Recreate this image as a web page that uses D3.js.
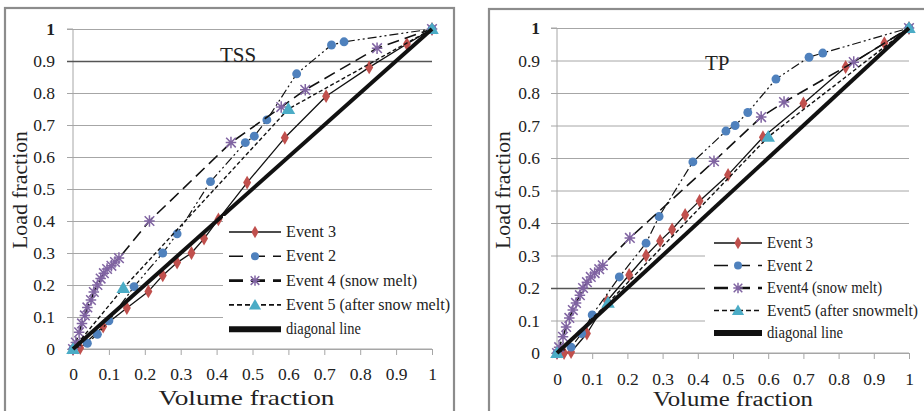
<!DOCTYPE html>
<html><head><meta charset="utf-8">
<script src="https://cdn.jsdelivr.net/npm/d3@7"></script>
<style>
html,body{margin:0;padding:0;background:#fff;}
svg{display:block;}
</style></head>
<body>
<svg id="c" width="924" height="411"></svg>
<script>
// ---------- data ----------
const ticks = [0,0.1,0.2,0.3,0.4,0.5,0.6,0.7,0.8,0.9,1];
const tickLabels = ["0","0.1","0.2","0.3","0.4","0.5","0.6","0.7","0.8","0.9","1"];
const seriesNames = ["Event 3","Event 2","Event 4 (snow melt)","Event 5 (after snow melt)","diagonal line"];
const seriesNamesTP = ["Event 3","Event 2","Event4 (snow melt)","Event5 (after snowmelt)","diagonal line"];

// TSS chart
const tssEvent3 = [[0,0],[0.02,0.003],[0.084,0.07],[0.15,0.128],[0.21,0.18],[0.25,0.23],[0.29,0.27],[0.33,0.30],[0.365,0.345],[0.405,0.405],[0.485,0.52],[0.59,0.66],[0.705,0.79],[0.825,0.88],[0.93,0.953],[1,1]];
const tssEvent2 = [[0,0],[0.04,0.018],[0.068,0.046],[0.1,0.088],[0.17,0.195],[0.25,0.30],[0.29,0.36],[0.383,0.523],[0.48,0.645],[0.505,0.665],[0.54,0.716],[0.623,0.86],[0.72,0.95],[0.755,0.96],[1,1]];
const tssEvent4 = [[0,0],[0.008,0.02],[0.017,0.052],[0.025,0.08],[0.033,0.105],[0.04,0.13],[0.05,0.153],[0.058,0.178],[0.068,0.2],[0.077,0.22],[0.086,0.237],[0.095,0.25],[0.107,0.26],[0.117,0.272],[0.128,0.284],[0.213,0.40],[0.44,0.645],[0.58,0.756],[0.647,0.81],[0.847,0.94],[1,1]];
const tssEvent5 = [[0,0],[0.14,0.19],[0.6,0.75],[1,1]];
const tssDiagonal = [[0,0],[1,1]];

// TP chart
const tpEvent3 = [[0,0],[0.02,0],[0.04,0.003],[0.085,0.06],[0.142,0.16],[0.205,0.24],[0.253,0.30],[0.293,0.345],[0.327,0.38],[0.364,0.425],[0.405,0.468],[0.486,0.548],[0.585,0.664],[0.70,0.768],[0.82,0.88],[0.93,0.953],[1,1]];
const tpEvent2 = [[0,0],[0.04,0.018],[0.07,0.06],[0.1,0.117],[0.177,0.234],[0.253,0.338],[0.29,0.42],[0.386,0.588],[0.48,0.683],[0.506,0.70],[0.542,0.74],[0.622,0.843],[0.716,0.91],[0.755,0.923],[1,1]];
const tpEvent4 = [[0,0],[0.006,0.018],[0.017,0.05],[0.026,0.08],[0.035,0.108],[0.045,0.132],[0.054,0.154],[0.065,0.178],[0.074,0.2],[0.085,0.218],[0.096,0.234],[0.107,0.246],[0.12,0.258],[0.13,0.27],[0.207,0.354],[0.446,0.59],[0.58,0.726],[0.645,0.772],[0.843,0.895],[1,1]];
const tpEvent5 = [[0,0],[0.145,0.154],[0.60,0.665],[1,1]];
const tpDiagonal = [[0,0],[1,1]];

// ---------- styles ----------
const FONT = "'Liberation Serif'";
const styles = [
  {dash:null, w:1.3, marker:"diamond", color:"#c0504d"},
  {dash:"9,3,2,3,2,3", w:1.2, marker:"circle", color:"#4f81bd"},
  {dash:"12,6", w:1.6, marker:"star", color:"#8064a2"},
  {dash:"4,2.5", w:1.4, marker:"triangle", color:"#4bacc6"},
  {dash:null, w:4, marker:null, color:null}
];
const legendDash = [null,"14,8","14,8","5,3",null];
const legendW = [1.6,1.4,2.6,1.6,6];

const svg = d3.select("#c");

function marker(g, type, color, x, y, scale){
  scale = scale||1;
  if(type==="diamond"){
    g.append("path").attr("d",d3.symbol(d3.symbolDiamond,55*scale)()).attr("transform",`translate(${x},${y})`).attr("fill",color);
  } else if(type==="circle"){
    g.append("path").attr("d",d3.symbol(d3.symbolCircle,62*scale)()).attr("transform",`translate(${x},${y})`).attr("fill",color);
  } else if(type==="triangle"){
    g.append("path").attr("d",d3.symbol(d3.symbolTriangle,80*scale)()).attr("transform",`translate(${x},${y+1})`).attr("fill",color);
  } else if(type==="star"){
    const r=4.8*Math.sqrt(scale);
    const d=`M${-r},${-r}L${r},${r}M${-r},${r}L${r},${-r}M0,${-r*1.2}L0,${r*1.2}M${-r*1.1},0L${r*1.1},0`;
    g.append("path").attr("d",d).attr("transform",`translate(${x},${y})`).attr("stroke",color).attr("stroke-width",1.5).attr("fill","none");
  }
}

function drawChart(cfg){
  const x = d3.scaleLinear([0,1],cfg.xr);
  const y = d3.scaleLinear([0,1],cfg.yr);
  const g = svg.append("g");
  // frame
  g.append("rect").attr("x",cfg.frame[0]).attr("y",cfg.frame[1]).attr("width",cfg.frame[2]).attr("height",cfg.frame[3])
    .attr("fill","none").attr("stroke","#8c8c8c").attr("stroke-width",2.2);
  // gridlines + y axis
  const ya = d3.axisLeft(y).tickValues(ticks).tickFormat((d,i)=>tickLabels[i]).tickSize(6).tickPadding(cfg.yPad);
  const yg = g.append("g").attr("transform",`translate(${cfg.xr[0]},0)`).call(ya);
  yg.select(".domain").attr("stroke","#a6a6a6").attr("d",`M-6,${cfg.yr[1]}H0V${cfg.yr[0]}`);
  yg.selectAll(".tick line").attr("stroke",(d)=> d===cfg.darkGrid ? "#555" : "#a6a6a6").attr("x2",cfg.xr[1]-cfg.xr[0]).attr("x1",-6)
    .attr("stroke-width",(d)=> d===cfg.darkGrid ? 1.4 : 1);
  yg.selectAll(".tick text").style("font-family",FONT).style("font-size","17.5px").attr("fill","#222")
    .attr("font-weight",(d)=>d===1?"bold":"normal");
  // x axis
  const xa = d3.axisBottom(x).tickValues(ticks).tickFormat((d,i)=>tickLabels[i]).tickSize(6).tickPadding(cfg.xPad);
  const xg = g.append("g").attr("transform",`translate(0,${cfg.yr[0]})`).call(xa);
  xg.select(".domain").attr("stroke","#a6a6a6").attr("d",`M${cfg.xr[0]},0H${cfg.xr[1]}`);
  xg.selectAll(".tick line").attr("stroke","#a6a6a6");
  xg.selectAll(".tick text").style("font-family",FONT).style("font-size","17.5px").attr("fill","#222");
  // title
  g.append("text").attr("x",cfg.title[1]).attr("y",cfg.title[2]).style("font-family",FONT).style("font-size","21px").attr("fill","#222").text(cfg.title[0]);
  // axis titles
  g.append("text").attr("x",(cfg.xr[0]+cfg.xr[1])/2-cfg.xtOff).attr("y",cfg.xtY).attr("text-anchor","middle")
    .style("font-family",FONT).style("font-size",cfg.xtFs+"px").attr("fill","#222").attr("textLength",cfg.xtLen).attr("lengthAdjust","spacingAndGlyphs").text("Volume fraction");
  g.append("text").attr("transform",`translate(${cfg.ytX},${cfg.ytC}) rotate(-90)`).attr("text-anchor","middle")
    .style("font-family",FONT).style("font-size","21px").attr("fill","#222").attr("textLength",118).attr("lengthAdjust","spacingAndGlyphs").text("Load fraction");
  // series (Excel order: each series line then markers, diagonal last)
  const line = d3.line().x(d=>x(d[0])).y(d=>y(d[1]));
  cfg.series.forEach((s,i)=>{
    const st = styles[i];
    const sg = g.append("g");
    sg.append("path").attr("d",line(s)).attr("fill","none").attr("stroke","#111").attr("stroke-width",st.w)
      .attr("stroke-dasharray",st.dash).attr("stroke-linejoin","round");
    if(st.marker){ s.forEach(p=>marker(sg,st.marker,st.color,x(p[0]),y(p[1]))); }
  });
  // legend
  const lg = g.append("g");
  lg.append("rect").attr("x",cfg.leg.box[0]).attr("y",cfg.leg.box[1]).attr("width",cfg.leg.box[2]).attr("height",cfg.leg.box[3]).attr("fill","#fff");
  cfg.leg.names.forEach((name,i)=>{
    const yy = cfg.leg.y0 + i*cfg.leg.dy;
    lg.append("line").attr("x1",cfg.leg.x1).attr("x2",cfg.leg.x2).attr("y1",yy).attr("y2",yy)
      .attr("stroke","#111").attr("stroke-width",legendW[i]).attr("stroke-dasharray",legendDash[i]);
    if(styles[i].marker) marker(lg,styles[i].marker,styles[i].color,(cfg.leg.x1+cfg.leg.x2)/2,yy,0.8);
    lg.append("text").attr("x",cfg.leg.tx).attr("y",yy+5).style("font-family",FONT).style("font-size",cfg.leg.fs+"px").attr("fill","#222")
      .attr("textLength",cfg.leg.tl[i]).attr("lengthAdjust","spacingAndGlyphs").text(name);
  });
}

drawChart({
  xr:[73,432], yr:[349,29], frame:[5,8,449,440], yPad:12, xPad:13, darkGrid:0.9,
  title:["TSS",220,62], xtY:405, xtFs:21, xtOff:6, xtLen:176, ytX:27, ytC:190,
  series:[tssEvent3,tssEvent2,tssEvent4,tssEvent5,tssDiagonal],
  leg:{box:[223,216,229,128], names:seriesNames, x1:229, x2:281, tx:286, y0:232, dy:24.3, fs:16, tl:[50,50,131,164,75]}
});
drawChart({
  xr:[557,909], yr:[353,28], frame:[489,9,460,440], yPad:11, xPad:14, darkGrid:0.2,
  title:["TP",705,70], xtY:406, xtFs:20, xtOff:0, xtLen:160, ytX:510, ytC:190,
  series:[tpEvent3,tpEvent2,tpEvent4,tpEvent5,tpDiagonal],
  leg:{box:[705,229,219,115], names:seriesNamesTP, x1:714, x2:762, tx:767, y0:243, dy:22.5, fs:16, tl:[46,46,115,151,76]}
});
</script>
</body></html>
